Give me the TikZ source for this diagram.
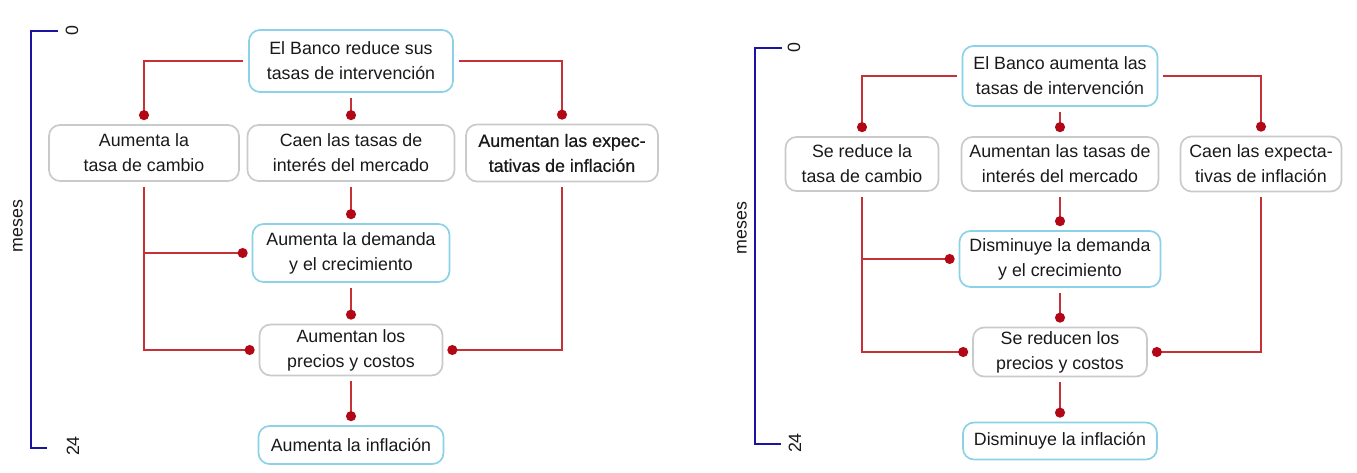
\documentclass[tikz,border=0pt]{standalone}
\usepackage{fontspec}
\setmainfont{Liberation Sans}
\newfontfamily\heavierfont[FakeBold=0.6]{Liberation Sans}
\usetikzlibrary{arrows.meta}
\definecolor{lred}{RGB}{196,50,55}
\definecolor{dred}{RGB}{178,8,22}
\definecolor{cyanb}{RGB}{140,210,230}
\definecolor{grayb}{RGB}{202,202,202}
\definecolor{bblue}{RGB}{28,20,160}
\definecolor{txt}{RGB}{25,25,25}
\tikzset{
  box/.style={draw, line width=1.7pt, rounded corners=11pt, align=center, inner sep=0pt,
    text=txt, font=\fontsize{17.8}{25}\selectfont},
  cbox/.style={box, draw=cyanb},
  gbox/.style={box, draw=grayb},
  link/.style={draw=lred, line width=1.8pt, -{Circle[length=10pt,color=dred]},
    shorten >=4pt, shorten <=5pt},
  bracket/.style={draw=bblue, line width=2.8pt},
  axislbl/.style={rotate=90, text=txt, inner sep=0pt, font=\fontsize{17.8}{20}\selectfont},
}
\begin{document}
\begin{tikzpicture}[x=1pt,y=-1pt]
\useasboundingbox (0,0) rectangle (1357,473);
% ---------- left diagram ----------
\coordinate (LbT) at (58,31);
\coordinate (LbTc) at (31,31);
\coordinate (LbBc) at (31,448);
\coordinate (LbB) at (47,448);
\draw[bracket] (LbT) -- (LbTc) -- (LbBc) -- (LbB);
\node[axislbl] (L0) at (72,31) {0};
\node[axislbl] (L24) at (73,446) {24};
\node[axislbl] (Lmes) at (18,226) {meses};

\node[cbox, minimum width=204pt, minimum height=62pt] (Ltop) at (351,61) {El Banco reduce sus\\tasas de intervención};
\node[gbox, minimum width=190pt, minimum height=56pt] (Ll) at (144,153) {Aumenta la\\tasa de cambio};
\node[gbox, minimum width=207pt, minimum height=56pt] (Lm) at (351,153) {Caen las tasas de\\interés del mercado};
\node[gbox, minimum width=192pt, minimum height=57pt, font=\heavierfont\fontsize{17.8}{25}\selectfont] (Lr) at (562,153) {Aumentan las expec-\\tativas de inflación};
\node[cbox, minimum width=197pt, minimum height=58pt] (Ldem) at (351,253) {Aumenta la demanda\\y el crecimiento};
\node[gbox, minimum width=183pt, minimum height=51pt] (Lpre) at (351,350) {Aumentan los\\precios y costos};
\node[cbox, minimum width=185pt, minimum height=38pt] (Linf) at (351,445) {Aumenta la inflación};

\draw[link] (Ltop.west) -| (Ll.north);
\draw[link] (Ltop.south) -- (Lm.north);
\draw[link] (Ltop.east) -| (Lr.north);
\draw[link] (Lm.south) -- (Ldem.north);
\draw[link] (Ll.south) |- (Ldem.west);
\draw[link] (Ll.south) |- (Lpre.west);
\draw[link] (Lr.south) |- (Lpre.east);
\draw[link] (Ldem.south) -- (Lpre.north);
\draw[link] (Lpre.south) -- (Linf.north);

% ---------- right diagram ----------
\coordinate (RbT) at (782,48);
\coordinate (RbTc) at (755,48);
\coordinate (RbBc) at (755,444);
\coordinate (RbB) at (781,444);
\draw[bracket] (RbT) -- (RbTc) -- (RbBc) -- (RbB);
\node[axislbl] (R0) at (794,48) {0};
\node[axislbl] (R24) at (795,443) {24};
\node[axislbl] (Rmes) at (742,228) {meses};

\node[cbox, minimum width=195pt, minimum height=60pt] (Rtop) at (1060,76) {El Banco aumenta las\\tasas de intervención};
\node[gbox, minimum width=153pt, minimum height=54pt] (Rl) at (862,164) {Se reduce la\\tasa de cambio};
\node[gbox, minimum width=197pt, minimum height=54pt] (Rm) at (1060,164) {Aumentan las tasas de\\interés del mercado};
\node[gbox, minimum width=161pt, minimum height=55pt] (Rr) at (1261,164) {Caen las expecta-\\tivas de inflación};
\node[cbox, minimum width=201pt, minimum height=56pt] (Rdem) at (1060,259) {Disminuye la demanda\\y el crecimiento};
\node[gbox, minimum width=174pt, minimum height=49pt] (Rpre) at (1060,352) {Se reducen los\\precios y costos};
\node[cbox, minimum width=194pt, minimum height=37pt] (Rinf) at (1060,441) {Disminuye la inflación};

\draw[link] (Rtop.west) -| (Rl.north);
\draw[link] (Rtop.south) -- (Rm.north);
\draw[link] (Rtop.east) -| (Rr.north);
\draw[link] (Rm.south) -- (Rdem.north);
\draw[link] (Rl.south) |- (Rdem.west);
\draw[link] (Rl.south) |- (Rpre.west);
\draw[link] (Rr.south) |- (Rpre.east);
\draw[link] (Rdem.south) -- (Rpre.north);
\draw[link] (Rpre.south) -- (Rinf.north);
\end{tikzpicture}
\end{document}
